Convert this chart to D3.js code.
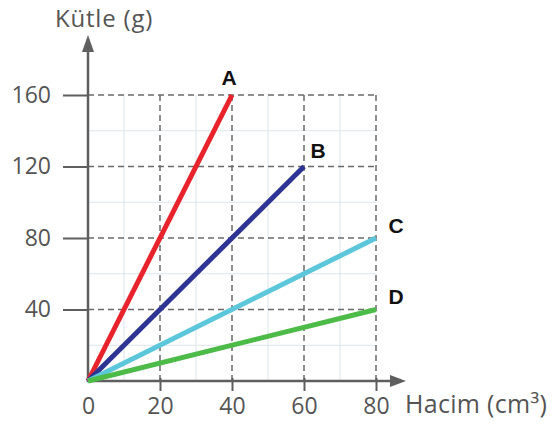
<!DOCTYPE html>
<html><head><meta charset="utf-8">
<script src="https://cdn.jsdelivr.net/npm/d3@7"></script>
<style>
html,body{margin:0;padding:0;background:#fff;}
svg{display:block;}
</style></head>
<body>
<svg id="chart" width="555" height="426"></svg>
<script>
const seriesNames = ["A", "B", "C", "D"];
const seriesColors = ["#e8232b", "#2d3494", "#5cc6db", "#4dbb48"];
const seriesEnd = [[40, 160], [60, 120], [80, 80], [80, 40]];
const xTicks = [0, 20, 40, 60, 80];
const yTicks = [40, 80, 120, 160];
const xMinor = [10, 30, 50, 70];
const yMinor = [20, 60, 100, 140];
const xTitle = "Hacim (cm³)";
const yTitle = "Kütle (g)";

const svg = d3.select("#chart");
const x = d3.scaleLinear().domain([0, 80]).range([88, 376]);
const y = d3.scaleLinear().domain([0, 160]).range([381, 95]);
const axisColor = "#5f5f5f";
const font = "'Open Sans', Lato, sans-serif";

// minor grid
const g = svg.append("g");
g.selectAll(".vm").data(xMinor).join("line")
  .attr("x1", d => x(d)).attr("x2", d => x(d))
  .attr("y1", y(0)).attr("y2", y(160))
  .attr("stroke", "#dce5ec").attr("stroke-width", 1);
g.selectAll(".hm").data(yMinor).join("line")
  .attr("x1", x(0)).attr("x2", x(80))
  .attr("y1", d => y(d)).attr("y2", d => y(d))
  .attr("stroke", "#dce5ec").attr("stroke-width", 1);

// major dashed grid
g.selectAll(".vM").data(xTicks.filter(d => d > 0)).join("line")
  .attr("x1", d => x(d)).attr("x2", d => x(d))
  .attr("y1", y(0)).attr("y2", y(160))
  .attr("stroke", "#6a6a6a").attr("stroke-width", 1.5)
  .attr("stroke-dasharray", "6,4");
g.selectAll(".hM").data(yTicks).join("line")
  .attr("x1", x(0)).attr("x2", x(80))
  .attr("y1", d => y(d)).attr("y2", d => y(d))
  .attr("stroke", "#6a6a6a").attr("stroke-width", 1.5)
  .attr("stroke-dasharray", "6,4");

// axes
const yAxis = d3.axisLeft(y).tickValues(yTicks).tickSize(25).tickPadding(12);
const xAxis = d3.axisBottom(x).tickValues(xTicks).tickSize(10).tickPadding(7);
const ya = svg.append("g").attr("transform", `translate(${x(0)},0)`).call(yAxis);
const xa = svg.append("g").attr("transform", `translate(0,${y(0)})`).call(xAxis);
[ya, xa].forEach(a => {
  a.select(".domain").remove();
  a.selectAll(".tick line").attr("stroke", axisColor).attr("stroke-width", 2);
  a.selectAll(".tick text").attr("fill", "#555").style("font-family", font).style("font-size", "23px");
});
xa.selectAll(".tick").filter(d => d === 0).select("line").remove();
xa.selectAll(".tick line").attr("y1", -3);

// axis lines with arrows
svg.append("line").attr("x1", x(0)).attr("x2", x(0)).attr("y1", y(0) + 1).attr("y2", 48)
  .attr("stroke", axisColor).attr("stroke-width", 2.5);
svg.append("path").attr("d", `M${x(0)},35 L${x(0) - 6},52 L${x(0) + 6},52 Z`).attr("fill", axisColor);
svg.append("line").attr("x1", x(0) - 1).attr("x2", 395).attr("y1", y(0)).attr("y2", y(0))
  .attr("stroke", axisColor).attr("stroke-width", 2.5);
svg.append("path").attr("d", `M406,${y(0)} L390,${y(0) - 6} L390,${y(0) + 6} Z`).attr("fill", axisColor);

// series lines
seriesNames.forEach((name, i) => {
  const pts = [[0, 0], seriesEnd[i]];
  svg.append("path")
    .attr("d", d3.line().x(d => x(d[0])).y(d => y(d[1]))(pts))
    .attr("stroke", seriesColors[i]).attr("stroke-width", 5)
    .attr("fill", "none").attr("stroke-linecap", "butt");
});

// series labels
const labelOffsets = [[-3, -18], [14, -16], [20, -13], [20, -13]];
seriesNames.forEach((name, i) => {
  svg.append("text")
    .attr("x", x(seriesEnd[i][0]) + labelOffsets[i][0])
    .attr("y", y(seriesEnd[i][1]) + labelOffsets[i][1])
    .attr("text-anchor", "middle").attr("dominant-baseline", "central")
    .style("font-family", "'Liberation Sans', Arial, sans-serif")
    .style("font-weight", "bold").style("font-size", "21px")
    .attr("fill", "#111").text(name);
});

// titles
svg.append("text").attr("x", 55).attr("y", 27)
  .style("font-family", font).style("font-size", "24px").style("letter-spacing", "0.8px")
  .attr("fill", "#555").text(yTitle);
svg.append("text").attr("x", 405).attr("y", 413)
  .style("font-family", font).style("font-size", "25px").style("letter-spacing", "0.3px")
  .attr("fill", "#555").text(xTitle);
</script>
</body></html>
